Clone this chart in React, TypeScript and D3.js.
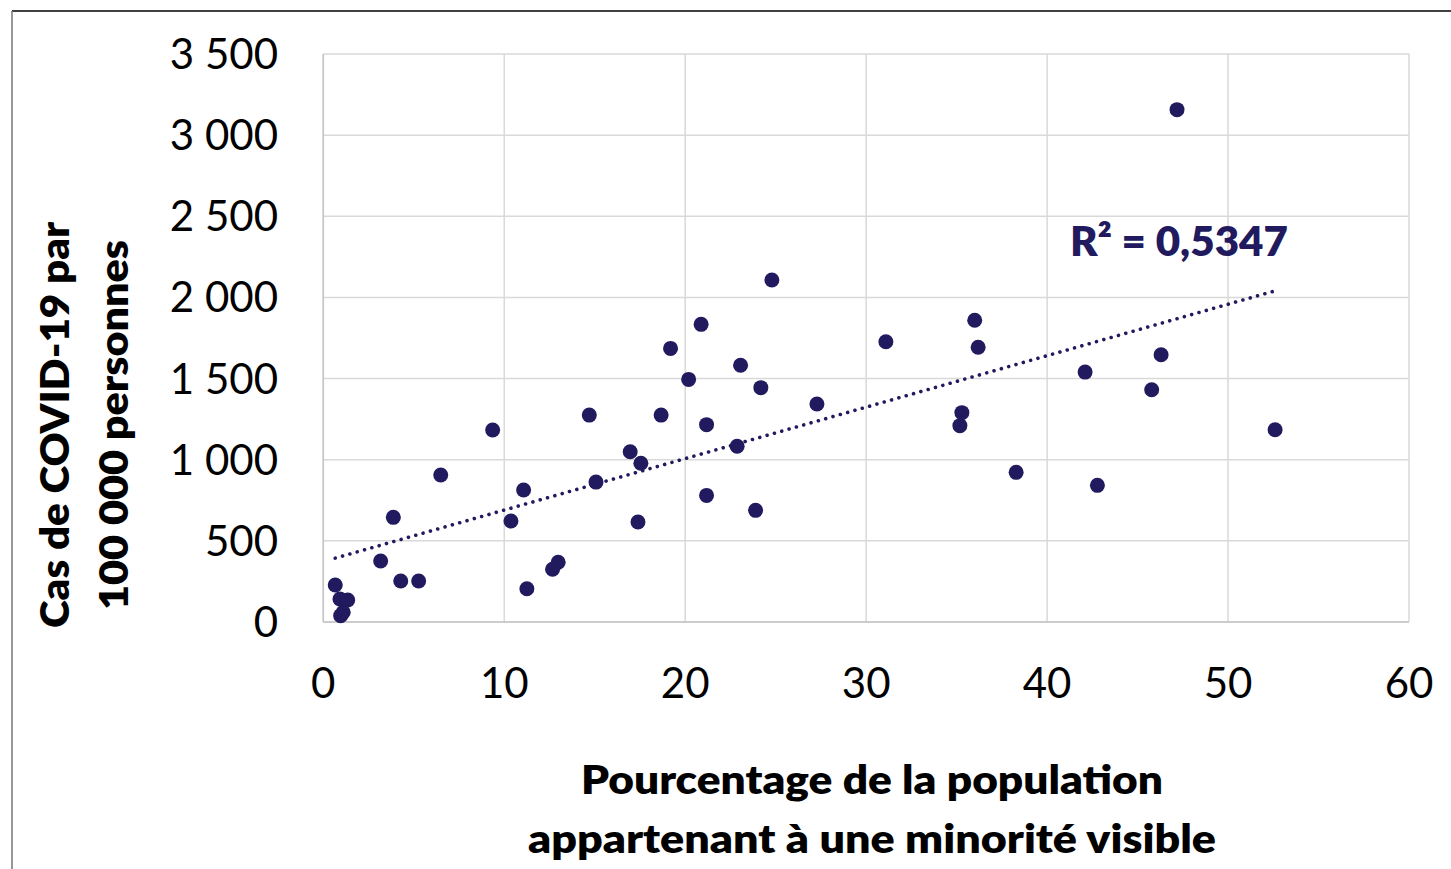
import React from "react";
import * as d3 from "d3";

const minorityPct = [
  0.66, 0.92, 1.35, 1.1, 0.96, 3.17, 3.87, 4.28, 5.27, 6.49, 9.36, 10.37, 11.07, 11.25, 12.67,
  12.98, 14.7, 15.07, 16.96, 17.55, 17.39, 18.67, 19.19, 20.19, 20.88, 21.18, 21.18, 22.87,
  23.06, 23.89, 24.18, 24.79, 27.28, 31.09, 35.18, 35.29, 36.0, 36.19, 38.29, 42.1, 42.78,
  45.78, 46.3, 47.18, 52.6,
];
const casesPer100k = [
  228, 142, 136, 60, 39, 376, 645, 253, 253, 906, 1183, 622, 813, 205, 325,
  368, 1275, 862, 1049, 978, 616, 1275, 1686, 1495, 1834, 1216, 780, 1083,
  1582, 688, 1444, 2107, 1343, 1727, 1210, 1290, 1859, 1693, 922, 1540, 842,
  1431, 1647, 3157, 1185,
];
const xTicks = [0, 10, 20, 30, 40, 50, 60];
const yTicks = [0, 500, 1000, 1500, 2000, 2500, 3000, 3500];
const yTitleLines = ["Cas de COVID-19 par", "100 000 personnes"];
const xTitleLines = ["Pourcentage de la population", "appartenant à une minorité visible"];
const r2Label = "R² = 0,5347";

const W = 1451;
const H = 869;
const MARK = "#211a5e";
const FONT = "Lato, 'Open Sans', sans-serif";

export default function App() {
  const x = d3.scaleLinear().domain([0, 60]).range([323.3, 1409]);
  const y = d3.scaleLinear().domain([0, 3500]).range([622, 54]);

  const pts = minorityPct.map((v, i) => [v, casesPer100k[i]] as [number, number]);
  const mx = d3.mean(minorityPct) as number;
  const my = d3.mean(casesPer100k) as number;
  let sxy = 0;
  let sxx = 0;
  pts.forEach(([a, b]) => {
    sxy += (a - mx) * (b - my);
    sxx += (a - mx) * (a - mx);
  });
  const slope = sxy / sxx;
  const intercept = my - slope * mx;
  const [xmin, xmax] = d3.extent(minorityPct) as [number, number];
  const trend = d3
    .line<number>()
    .x((v) => x(v))
    .y((v) => y(intercept + slope * v))([xmin, xmax]);

  const fmt = (v: number) => d3.format(",")(v).replace(/,/g, " ");

  const yTitleLen = [406, 370];
  const xTitleLen = [582, 688];

  return (
    <svg
      width={W}
      height={H}
      style={{ position: "fixed", left: 0, top: 0, display: "block", background: "#fff" }}
    >
      <rect x={0} y={0} width={W} height={H} fill="#fff" />
      {/* outer frame */}
      <line x1={12} y1={11} x2={W} y2={11} stroke="#000" strokeWidth={1.3} />
      <line x1={12} y1={11} x2={12} y2={H} stroke="#777" strokeWidth={1.5} />

      {/* gridlines */}
      {yTicks.map((t) => (
        <line key={"gy" + t} x1={x(0)} x2={x(60)} y1={y(t)} y2={y(t)} stroke="#d9d9d9" strokeWidth={1.5} />
      ))}
      {xTicks.map((t) => (
        <line key={"gx" + t} x1={x(t)} x2={x(t)} y1={y(0)} y2={y(3500)} stroke="#d9d9d9" strokeWidth={1.5} />
      ))}
      <line x1={x(0)} x2={x(60)} y1={y(0)} y2={y(0)} stroke="#c4c4c4" strokeWidth={1.5} />
      <line x1={x(0)} x2={x(0)} y1={y(0)} y2={y(3500)} stroke="#c4c4c4" strokeWidth={1.5} />

      {/* tick labels */}
      {yTicks.map((t) => (
        <text key={"ty" + t} x={278} y={y(t) + 15} textAnchor="end" fontFamily={FONT} fontSize={42} fill="#000">
          {fmt(t)}
        </text>
      ))}
      {xTicks.map((t) => (
        <text key={"tx" + t} x={x(t)} y={698} textAnchor="middle" fontFamily={FONT} fontSize={42} fill="#000">
          {t}
        </text>
      ))}

      {/* points */}
      {pts.map(([a, b], i) => (
        <circle key={"p" + i} cx={x(a)} cy={y(b)} r={7.5} fill={MARK} />
      ))}

      {/* trendline */}
      <path
        d={trend || ""}
        fill="none"
        stroke={MARK}
        strokeWidth={3.6}
        strokeLinecap="round"
        strokeDasharray="0.01 7.6"
      />
      <text
        x={1070}
        y={256}
        fontFamily={FONT}
        fontWeight={800}
        fontSize={42}
        fill={MARK}
        textLength={218}
        lengthAdjust="spacingAndGlyphs"
      >
        {r2Label}
      </text>

      {/* axis titles */}
      <g transform="translate(69,425) rotate(-90)">
        {yTitleLines.map((s, i) => (
          <text
            key={s}
            x={0}
            y={i * 59}
            textAnchor="middle"
            fontFamily={FONT}
            fontWeight={800}
            fontSize={39}
            fill="#000"
            textLength={yTitleLen[i]}
            lengthAdjust="spacingAndGlyphs"
          >
            {s}
          </text>
        ))}
      </g>
      {xTitleLines.map((s, i) => (
        <text
          key={s}
          x={872}
          y={794 + i * 59}
          textAnchor="middle"
          fontFamily={FONT}
          fontWeight={800}
          fontSize={39}
          fill="#000"
          textLength={xTitleLen[i]}
          lengthAdjust="spacingAndGlyphs"
        >
          {s}
        </text>
      ))}
    </svg>
  );
}
